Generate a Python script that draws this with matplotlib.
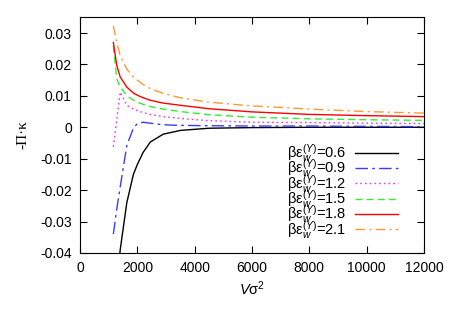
import numpy as np
import matplotlib
matplotlib.use("Agg")
import matplotlib.pyplot as plt

plt.rcParams['font.family'] = ['Liberation Sans', 'DejaVu Sans']
plt.rcParams['mathtext.fontset'] = 'custom'
plt.rcParams['mathtext.rm'] = 'Liberation Sans'
plt.rcParams['mathtext.it'] = 'Liberation Sans:italic'

# volume grid (V sigma^2)
vol = [1160, 1280, 1400, 1630, 1860, 2000, 2200, 2450, 2900, 3500, 4500, 6000, 8000, 10000, 12000]

# -Pi*kappa for each wall strength
y_06 = [-0.065, -0.050, -0.039, -0.024, -0.0150, -0.0118, -0.0080, -0.0047, -0.0022, -0.0010,
        -0.0003, -0.0001, 0.0, 0.0, 0.0]
y_09 = [-0.034, -0.026, -0.019, -0.0058, -0.0003, 0.0012, 0.0016, 0.0013, 0.0008, 0.0006,
        0.0005, 0.0004, 0.0004, 0.0003, 0.0002]
y_12 = [-0.0062, 0.0025, 0.0112, 0.0070, 0.0058, 0.0053, 0.0047, 0.0041, 0.0034, 0.0028,
        0.0021, 0.0016, 0.0015, 0.0013, 0.0012]
y_15 = [0.026, 0.0154, 0.0128, 0.0101, 0.0086, 0.0080, 0.0073, 0.0066, 0.0058, 0.0050,
        0.0040, 0.0032, 0.0027, 0.0024, 0.0022]
y_18 = [0.027, 0.0197, 0.0160, 0.0128, 0.0109, 0.0102, 0.0094, 0.0086, 0.0077, 0.0070,
        0.0059, 0.0049, 0.0041, 0.0037, 0.0034]
y_21 = [0.0323, 0.0270, 0.0228, 0.0185, 0.0160, 0.0150, 0.0136, 0.0123, 0.0108, 0.0094,
        0.0080, 0.0068, 0.0058, 0.0050, 0.0045]

eps_values = ['0.6', '0.9', '1.2', '1.5', '1.8', '2.1']
series = [y_06, y_09, y_12, y_15, y_18, y_21]
colors = ['black', '#3c3cff', '#ee33ee', '#33ee33', '#ff0000', '#ff9933']
styles = ['-', (0, (9, 3, 2, 3)), (0, (1.2, 2.2)), (0, (5, 3)), '-', (0, (7, 3, 1.5, 3))]

fig = plt.figure(figsize=(4.5, 3.15), dpi=100)
ax = fig.add_axes([0.178, 0.197, 0.764, 0.749])

for vals, eps, c, ls in zip(series, eps_values, colors, styles):
    ax.plot(vol, vals, color=c, linestyle=ls, linewidth=1.0,
            label=r'βε$_w^{(Y)}$=' + eps)

ax.set_xlim(0, 12000)
ax.set_ylim(-0.04, 0.0351)
ax.set_xticks(np.arange(0, 12001, 2000))
ax.set_yticks(np.arange(-0.04, 0.031, 0.01))
ax.set_yticklabels(['-0.04', '-0.03', '-0.02', '-0.01', '0', '0.01', '0.02', '0.03'])
ax.tick_params(direction='in', top=True, right=True, length=5, labelsize=10, pad=6)

ax.set_xlabel(r'$V$σ$^2$', fontsize=10.5, labelpad=3)
ax.set_ylabel('-Π·κ', fontsize=11, family=['Liberation Serif', 'DejaVu Serif'], labelpad=8)

ax.legend(loc='upper right', bbox_to_anchor=(0.924, 0.47), frameon=False,
          markerfirst=False, fontsize=10.5, handlelength=2.9, handletextpad=0.6,
          labelspacing=-0.45, borderaxespad=0, borderpad=0)

fig.savefig('out.png', dpi=100)
